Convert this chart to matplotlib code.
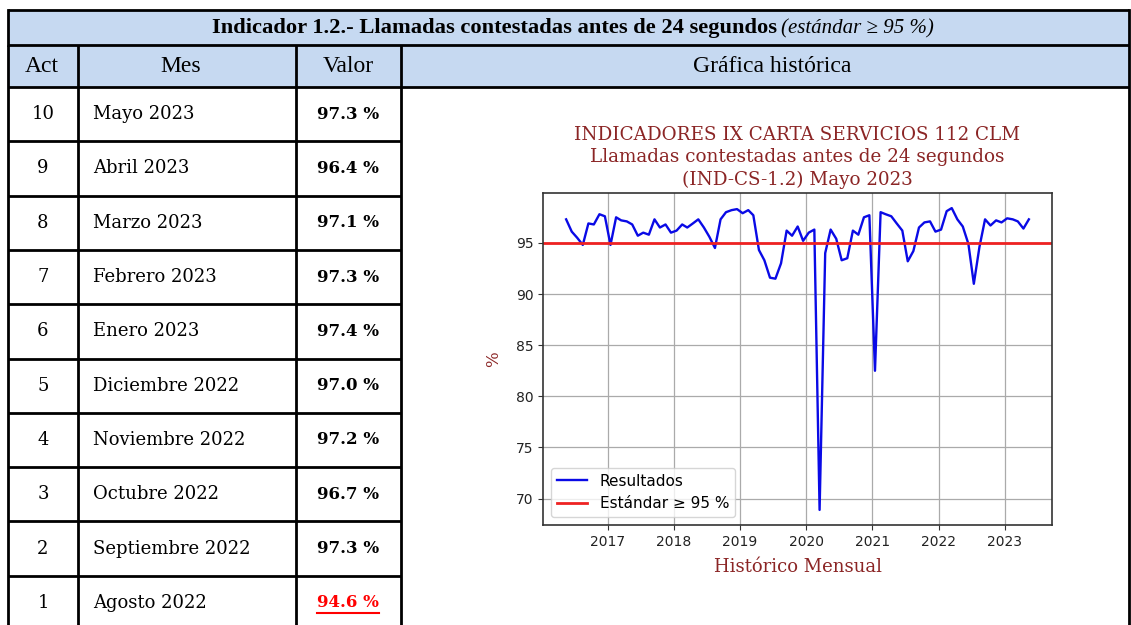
import matplotlib
matplotlib.use("Agg")
import matplotlib.pyplot as plt
import matplotlib.dates as mdates
from matplotlib.patches import Rectangle
import pandas as pd

# tabla de los últimos 10 meses
act = [10, 9, 8, 7, 6, 5, 4, 3, 2, 1]
meses = ["Mayo 2023", "Abril 2023", "Marzo 2023", "Febrero 2023", "Enero 2023",
         "Diciembre 2022", "Noviembre 2022", "Octubre 2022", "Septiembre 2022", "Agosto 2022"]
valores = [97.3, 96.4, 97.1, 97.3, 97.4, 97.0, 97.2, 96.7, 97.3, 94.6]
estandar = 95

# histórico mensual (mayo 2016 - mayo 2023)
resultados = [97.3, 96.1, 95.5, 94.8, 96.9, 96.8, 97.8, 97.6,
              94.8, 97.5, 97.2, 97.1, 96.8, 95.7, 96.0, 95.8, 97.3, 96.5, 96.8, 96.0,
              96.2, 96.8, 96.5, 96.9, 97.3, 96.5, 95.6, 94.5, 97.3, 98.0, 98.2, 98.3,
              97.9, 98.2, 97.7, 94.3, 93.3, 91.6, 91.5, 93.0, 96.2, 95.7, 96.6, 95.2,
              96.0, 96.3, 68.9, 94.0, 96.3, 95.4, 93.3, 93.5, 96.2, 95.8, 97.5, 97.7,
              82.5, 98.0, 97.8, 97.6, 96.9, 96.2, 93.2, 94.2, 96.5, 97.0, 97.1, 96.1,
              96.3, 98.1, 98.4, 97.3, 96.6, 94.9, 91.0, 94.6, 97.3, 96.7, 97.2, 97.0,
              97.4, 97.3, 97.1, 96.4, 97.3]
fechas = pd.date_range("2016-05-15", periods=len(resultados), freq=pd.DateOffset(months=1))

W, H = 1131, 625
fig = plt.figure(figsize=(W / 100, H / 100), dpi=100)

tab = fig.add_axes([0, 0, 1, 1])
tab.set_xlim(0, W)
tab.set_ylim(H, 0)
tab.axis("off")

azul = "#C6D9F1"
x_cols = [8, 78, 296, 401]
x_right = 1129
y_top, y_h1, y_h2 = 10, 45, 87
row_h = 54.3

tab.add_patch(Rectangle((x_cols[0], y_top), x_right - x_cols[0], y_h2 - y_top,
                        facecolor=azul, edgecolor="none"))

lw = 2
for y in [y_top, y_h1, y_h2]:
    tab.plot([x_cols[0], x_right], [y, y], color="black", lw=lw, solid_capstyle="butt")
for x in x_cols:
    tab.plot([x, x], [y_h1, H], color="black", lw=lw, solid_capstyle="butt")
tab.plot([x_cols[0], x_cols[0]], [y_top, y_h1], color="black", lw=lw)
tab.plot([x_right, x_right], [y_top, H], color="black", lw=lw)
for i in range(1, len(act)):
    y = y_h2 + i * row_h
    tab.plot([x_cols[0], x_cols[3]], [y, y], color="black", lw=lw, solid_capstyle="butt")

hfont = "Liberation Serif"
tab.text(777, 28, "Indicador 1.2.- Llamadas contestadas antes de 24 segundos",
         ha="right", va="center", family=hfont, weight="bold", fontsize=16.2)
tab.text(781, 28.5, "(estándar ≥ 95 %)", ha="left", va="center", family=hfont,
         style="italic", fontsize=15)
yh = (y_h1 + y_h2) / 2
tab.text(42, yh, "Act", ha="center", va="center", family=hfont, fontsize=17)
tab.text(181, yh, "Mes", ha="center", va="center", family=hfont, fontsize=17)
tab.text(348, yh, "Valor", ha="center", va="center", family=hfont, fontsize=17)
tab.text(772, yh, "Gráfica histórica", ha="center", va="center", family=hfont, fontsize=17)

bfont = "DejaVu Serif"
fig.canvas.draw()
renderer = fig.canvas.get_renderer()
for i, (a, m, v) in enumerate(zip(act, meses, valores)):
    yc = y_h2 + (i + 0.5) * row_h
    tab.text(43, yc, str(a), ha="center", va="center", family=bfont, fontsize=13)
    tab.text(93, yc, m, ha="left", va="center", family=bfont, fontsize=13)
    col = "red" if v < estandar else "black"
    t = tab.text(348, yc, f"{v:.1f} %", ha="center", va="center", family=bfont,
                 weight="bold", fontsize=12, color=col)
    if v < estandar:
        bb = t.get_window_extent(renderer=renderer)
        tab.plot([bb.x0, bb.x1], [yc + 10.5, yc + 10.5], color="red", lw=1.5)

# gráfica histórica
ax = fig.add_axes([543 / W, 1 - 525 / H, (1052 - 543) / W, (525 - 193) / H])
rojo_osc = "#8B2525"
ax.plot(fechas, resultados, color="#0a0ae6", lw=1.7, label="Resultados")
ax.axhline(estandar, color="#ee2222", lw=2, label="Estándar ≥ 95 %")
ax.grid(True, color="#aaaaaa", lw=0.9)
ax.xaxis.set_major_locator(mdates.YearLocator())
ax.xaxis.set_major_formatter(mdates.DateFormatter("%Y"))
ax.tick_params(labelsize=10, colors="#333333", labelcolor="#222222")
for s in ax.spines.values():
    s.set_color("#333333")
    s.set_linewidth(1.2)
ax.set_title("INDICADORES IX CARTA SERVICIOS 112 CLM\nLlamadas contestadas antes de 24 segundos\n(IND-CS-1.2) Mayo 2023",
             family="DejaVu Serif", fontsize=13.2, color=rojo_osc, linespacing=1.3, pad=6)
ax.set_xlabel("Histórico Mensual", family="DejaVu Serif", fontsize=13, color=rojo_osc, labelpad=7)
ax.set_ylabel("%", family="DejaVu Serif", fontsize=12, color=rojo_osc, labelpad=10)
ax.legend(loc="lower left", fontsize=11, framealpha=0.8)

fig.savefig("out.png", dpi=100)
